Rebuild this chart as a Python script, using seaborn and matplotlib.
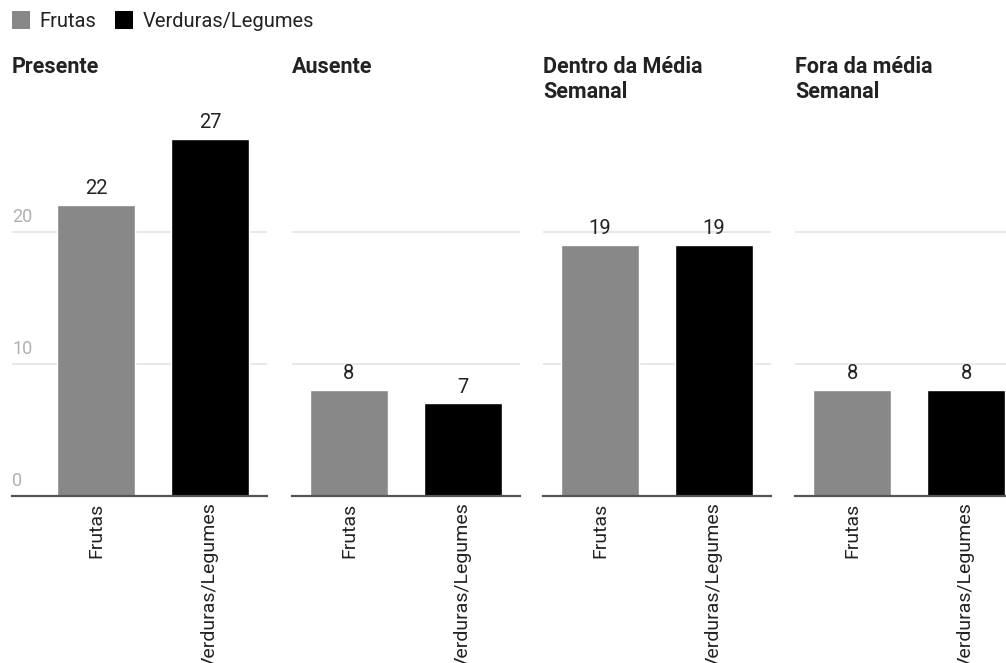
import matplotlib
matplotlib.use("Agg")
import matplotlib.pyplot as plt
import matplotlib.transforms as mtransforms
from matplotlib.patches import Patch
import pandas as pd
import seaborn as sns

# Data
groups = ["Presente", "Ausente", "Dentro da Média\nSemanal", "Fora da média\nSemanal"]
categories = ["Frutas", "Verduras/Legumes"]
frutas = [22, 8, 19, 8]
verduras = [27, 7, 19, 8]
y_ticks = [0, 10, 20]

colors = {"Frutas": "#888888", "Verduras/Legumes": "#000000"}

sns.set_theme(style="white")
plt.rcParams["font.family"] = ["Roboto", "DejaVu Sans"]
plt.rcParams["font.size"] = 14

W, H = 1006, 663
fig = plt.figure(figsize=(W / 100, H / 100), dpi=100)

# panel geometry in pixels (one category step = 114 px)
step = 114.0
base_y = 496.0
top_val = 27
px_per_unit = 13.22
ax_h = top_val * px_per_unit
panel_lefts = [12, 292, 543, 795]
left_pad = [84, 57, 57, 57]

for i, g in enumerate(groups):
    lp = left_pad[i]
    width_px = lp + step + 57
    ax = fig.add_axes([panel_lefts[i] / W, (H - base_y) / H, width_px / W, ax_h / H])
    df = pd.DataFrame({"tipo": categories, "valor": [frutas[i], verduras[i]]})
    sns.barplot(data=df, x="tipo", y="valor", hue="tipo", palette=colors,
                width=78 / step, legend=False, ax=ax, saturation=1, zorder=3)
    ax.set_xlim(-lp / step, 1 + 57 / step)
    ax.set_ylim(0, top_val)
    ax.set_xlabel("")
    ax.set_ylabel("")
    ax.set_yticks(y_ticks)
    ax.set_yticklabels([])
    ax.tick_params(axis="y", length=0)
    ax.tick_params(axis="x", length=0, pad=4.5, labelsize=14, labelcolor="#222222")
    for lbl in ax.get_xticklabels():
        lbl.set_rotation(90)
    for t in y_ticks[1:]:
        ax.axhline(t, color="#e4e4e4", lw=1.2, zorder=1)
    for s in ["left", "right", "top"]:
        ax.spines[s].set_visible(False)
    ax.spines["bottom"].set_color("#555555")
    ax.spines["bottom"].set_linewidth(1.6)
    ax.spines["bottom"].set_zorder(4)
    for c in ax.containers:
        ax.bar_label(c, padding=5, fontsize=14.5, color="#222222")
    if i == 0:
        tr = mtransforms.blended_transform_factory(ax.transAxes, ax.transData)
        off = mtransforms.offset_copy(tr, fig=fig, y=4, units="points")
        for t in y_ticks:
            ax.text(0, t, str(t), transform=off, ha="left", va="bottom",
                    fontsize=13, color="#b0b0b0")
    ttr = mtransforms.blended_transform_factory(ax.transAxes, fig.transFigure)
    ax.text(0, 1 - 56 / H, g, transform=ttr, ha="left", va="top",
            fontsize=15.5, fontweight="bold", color="#222222", linespacing=1.15)

handles = [Patch(facecolor=colors[c], edgecolor="none", label=c) for c in categories]
fig.legend(handles=handles, loc="upper left", bbox_to_anchor=(12 / W, 1 - 11 / H),
           ncol=2, frameon=False, fontsize=14.5, handlelength=0.9, handleheight=1.0,
           handletextpad=0.45, columnspacing=0.95, borderpad=0, borderaxespad=0,
           labelcolor="#222222")

fig.savefig("out.png", dpi=100)
